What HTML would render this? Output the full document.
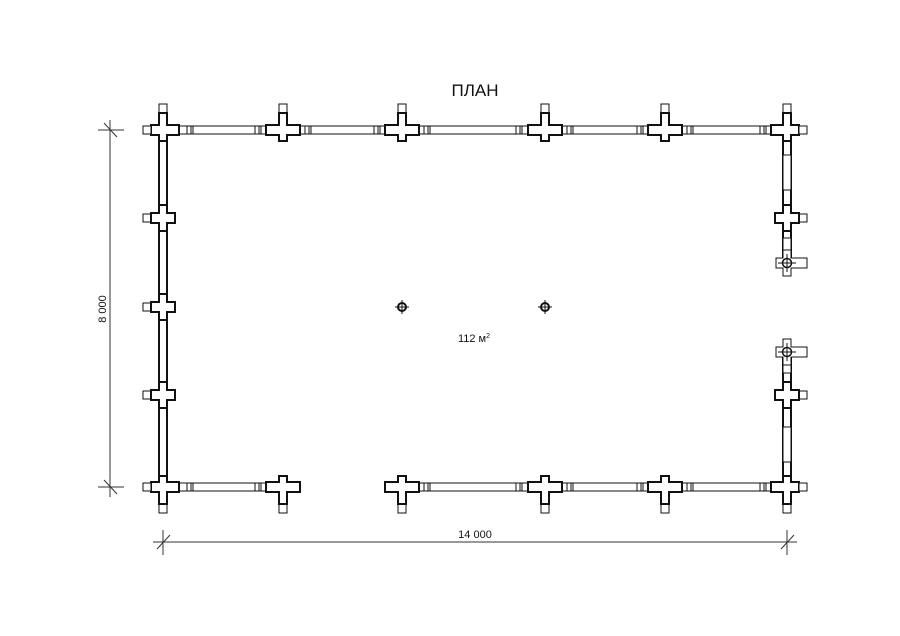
<!DOCTYPE html>
<html><head><meta charset="utf-8"><style>
html,body{margin:0;padding:0;background:#fff;}
svg{display:block;}
text{font-family:"Liberation Sans",sans-serif;fill:#111;}
</style></head><body>
<svg width="900" height="636" viewBox="0 0 900 636" xmlns="http://www.w3.org/2000/svg">
<defs>
<g id="cr">
<rect x="-4" y="-26" width="8" height="9" fill="#fff" stroke="#111" stroke-width="1"/>
<polygon points="-4,-17 4,-17 4,-5 17,-5 17,5 4,5 4,11 -4,11 -4,5 -17,5 -17,-5 -4,-5" fill="#fff" stroke="#111" stroke-width="2"/>
</g>
<g id="cc">
<rect x="-4" y="-26" width="8" height="9" fill="#fff" stroke="#111" stroke-width="1"/>
<polygon points="-4,-17 4,-17 4,-5 16,-5 16,5 4,5 4,11 -4,11 -4,5 -12,5 -12,-5 -4,-5" fill="#fff" stroke="#111" stroke-width="2"/>
<rect x="-20" y="-4" width="8" height="8" fill="#fff" stroke="#111" stroke-width="1"/>
</g>
<g id="sc">
<rect x="-20" y="-4" width="8" height="8" fill="#fff" stroke="#111" stroke-width="1"/>
<polygon points="-4,-13 4,-13 4,-5 12,-5 12,5 4,5 4,13 -4,13 -4,5 -12,5 -12,-5 -4,-5" fill="#fff" stroke="#111" stroke-width="2"/>
</g>
<g id="sm">
<polygon points="-4,-13 4,-13 4,-5 20,-5 20,5 4,5 4,13 -4,13 -4,5 -11,5 -11,-5 -4,-5" fill="#fff" stroke="#111" stroke-width="1"/>
<circle cx="0" cy="0" r="4.5" fill="#fff" stroke="#111" stroke-width="1.5"/>
<line x1="0" y1="-9" x2="0" y2="9" stroke="#111" stroke-width="1"/>
<line x1="-9" y1="0" x2="9" y2="0" stroke="#111" stroke-width="1"/>
</g>
<g id="win">
<line x1="0" y1="-4" x2="0" y2="4" stroke="#111" stroke-width="1"/>
<line x1="4" y1="-4" x2="4" y2="4" stroke="#111" stroke-width="1"/>
<line x1="6" y1="-4" x2="6" y2="4" stroke="#111" stroke-width="1"/>
</g>
</defs>

<text x="475" y="96" font-size="17" text-anchor="middle">ПЛАН</text>

<!-- walls -->
<rect x="163" y="126" width="624" height="8" fill="#fff" stroke="#111" stroke-width="1"/>
<rect x="163" y="483" width="120" height="8" fill="#fff" stroke="#111" stroke-width="1"/>
<rect x="402" y="483" width="385" height="8" fill="#fff" stroke="#111" stroke-width="1"/>
<rect x="159" y="130" width="8" height="357" fill="#fff" stroke="#111" stroke-width="2"/>
<rect x="783" y="130" width="8" height="133" fill="#fff" stroke="#111" stroke-width="2"/>
<rect x="783" y="352" width="8" height="135" fill="#fff" stroke="#111" stroke-width="2"/>
<rect x="783" y="155" width="8" height="35" fill="#fff" stroke="#111" stroke-width="1"/>
<rect x="783" y="427" width="8" height="35" fill="#fff" stroke="#111" stroke-width="1"/>
<rect x="783" y="238" width="8" height="12" fill="#fff" stroke="#111" stroke-width="1"/>
<rect x="783" y="365" width="8" height="8" fill="#fff" stroke="#111" stroke-width="1"/>

<!-- window ticks top -->
<use href="#win" x="187" y="130"/><use href="#win" x="255" y="130"/>
<use href="#win" x="305" y="130"/><use href="#win" x="374" y="130"/>
<use href="#win" x="424" y="130"/><use href="#win" x="516" y="130"/>
<use href="#win" x="567" y="130"/><use href="#win" x="637" y="130"/>
<use href="#win" x="687" y="130"/><use href="#win" x="760" y="130"/>
<!-- bottom -->
<use href="#win" x="187" y="487"/><use href="#win" x="255" y="487"/>
<use href="#win" x="424" y="487"/><use href="#win" x="516" y="487"/>
<use href="#win" x="567" y="487"/><use href="#win" x="637" y="487"/>
<use href="#win" x="687" y="487"/><use href="#win" x="760" y="487"/>

<!-- top crosses -->
<use href="#cc" transform="translate(163,130)"/>
<use href="#cr" transform="translate(283,130)"/>
<use href="#cr" transform="translate(402,130)"/>
<use href="#cr" transform="translate(545,130)"/>
<use href="#cr" transform="translate(665,130)"/>
<use href="#cc" transform="translate(787,130) scale(-1,1)"/>
<!-- bottom crosses -->
<use href="#cc" transform="translate(163,487) scale(1,-1)"/>
<use href="#cr" transform="translate(283,487) scale(1,-1)"/>
<use href="#cr" transform="translate(402,487) scale(1,-1)"/>
<use href="#cr" transform="translate(545,487) scale(1,-1)"/>
<use href="#cr" transform="translate(665,487) scale(1,-1)"/>
<use href="#cc" transform="translate(787,487) scale(-1,-1)"/>
<!-- left -->
<use href="#sc" transform="translate(163,218)"/>
<use href="#sc" transform="translate(163,307)"/>
<use href="#sc" transform="translate(163,395)"/>
<!-- right -->
<use href="#sc" transform="translate(787,218) scale(-1,1)"/>
<use href="#sc" transform="translate(787,395) scale(-1,1)"/>
<use href="#sm" transform="translate(787,263)"/>
<use href="#sm" transform="translate(787,352)"/>

<!-- columns -->
<g stroke="#111" fill="#fff">
<circle cx="402" cy="307" r="4" stroke-width="2"/>
<circle cx="545" cy="307" r="4" stroke-width="2"/>
<line x1="395" y1="307" x2="409" y2="307" stroke-width="1"/>
<line x1="402" y1="300" x2="402" y2="314" stroke-width="1"/>
<line x1="538" y1="307" x2="552" y2="307" stroke-width="1"/>
<line x1="545" y1="300" x2="545" y2="314" stroke-width="1"/>
</g>
<text x="474" y="342" font-size="11" text-anchor="middle">112 м<tspan font-size="7" dy="-4">2</tspan></text>

<!-- dimensions -->
<g stroke="#333" stroke-width="1">
<line x1="110" y1="120" x2="110" y2="497"/>
<line x1="98" y1="130" x2="124" y2="130"/>
<line x1="104" y1="123" x2="117" y2="137"/>
<line x1="98" y1="487" x2="124" y2="487"/>
<line x1="104" y1="480" x2="117" y2="494"/>
<line x1="153" y1="542" x2="797" y2="542"/>
<line x1="163" y1="530" x2="163" y2="555"/>
<line x1="157" y1="549" x2="170" y2="535"/>
<line x1="787" y1="530" x2="787" y2="555"/>
<line x1="781" y1="549" x2="794" y2="535"/>
</g>
<text x="475" y="538" font-size="11" text-anchor="middle">14 000</text>
<text transform="translate(106,309) rotate(-90)" font-size="11" text-anchor="middle">8 000</text>
</svg>
</body></html>
